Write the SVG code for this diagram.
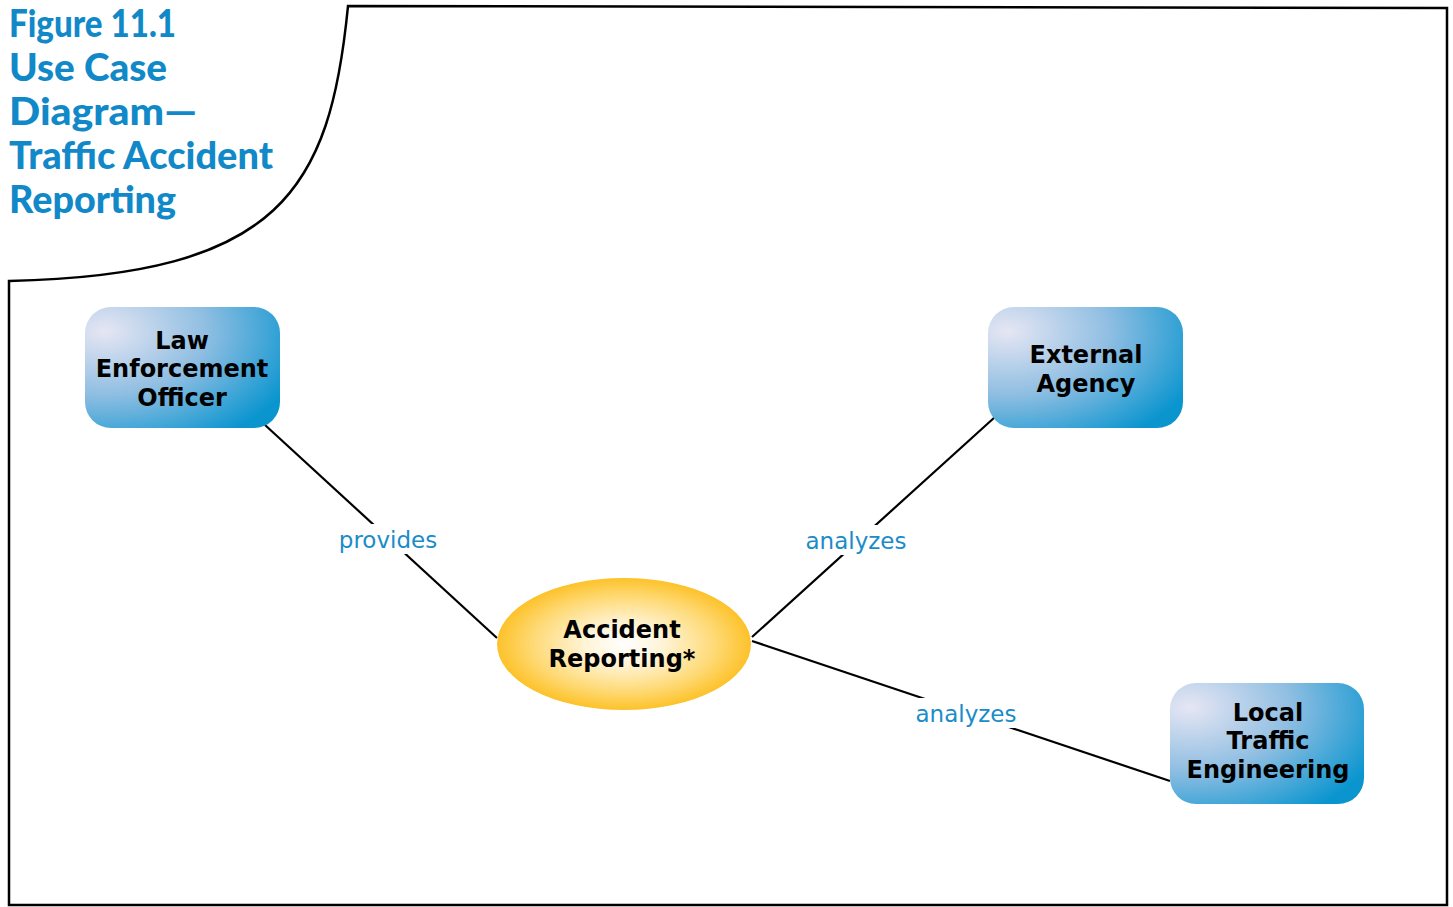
<svg xmlns="http://www.w3.org/2000/svg" width="1453" height="907" viewBox="0 0 1453 907">
<style>
.title{font-family:"Lato","Liberation Sans",Arial,sans-serif;font-weight:900;font-size:37px;fill:#1189c8}
.nt{font-family:"DejaVu Sans",Verdana,sans-serif;font-weight:bold;font-size:24px;fill:#000;text-anchor:middle}
.lbl{font-family:"DejaVu Sans",Verdana,sans-serif;font-size:23px;fill:#1a8cc8;text-anchor:middle}
.conn{stroke:#000;stroke-width:2.2;fill:none}
.actor{fill:url(#blueGrad)}
</style>
<defs>
<radialGradient id="blueGrad" cx="0.1" cy="0.2" r="1.05" fx="0.1" fy="0.2">
<stop offset="0" stop-color="#e6e6f3"/>
<stop offset="0.5" stop-color="#8fbee2"/>
<stop offset="1" stop-color="#0a95cf"/>
</radialGradient>
<radialGradient id="yelGrad" cx="0.5" cy="0.5" r="0.5">
<stop offset="0" stop-color="#ffffff"/>
<stop offset="0.3" stop-color="#fff4d8"/>
<stop offset="0.7" stop-color="#fedb7a"/>
<stop offset="1" stop-color="#fdc22a"/>
</radialGradient>
</defs>
<rect width="1453" height="907" fill="#fff"/>
<g id="frame">
<path d="M9,905 L9,281 C280,275 330,190 348,6 L1447,8 L1447,905 Z" fill="none" stroke="#000" stroke-width="2.5"/>
</g>
<g id="title">
<text class="title" x="9" y="37" textLength="167" lengthAdjust="spacingAndGlyphs">Figure 11.1</text>
<text class="title" x="9" y="81" textLength="158" lengthAdjust="spacingAndGlyphs">Use Case</text>
<text class="title" x="9" y="125" textLength="188" lengthAdjust="spacingAndGlyphs">Diagram—</text>
<text class="title" x="9" y="169" textLength="264" lengthAdjust="spacingAndGlyphs">Traffic Accident</text>
<text class="title" x="9" y="213" textLength="167" lengthAdjust="spacingAndGlyphs">Reporting</text>
</g>
<g id="connectors">
<line class="conn" x1="265" y1="425" x2="497" y2="638"/>
<line class="conn" x1="995" y1="417" x2="752" y2="637"/>
<line class="conn" x1="752" y1="641" x2="1170" y2="781"/>
<rect x="334" y="524" width="108" height="30" fill="#fff"/>
<text class="lbl" x="388" y="548">provides</text>
<rect x="801" y="525" width="110" height="30" fill="#fff"/>
<text class="lbl" x="856" y="549">analyzes</text>
<rect x="911" y="698" width="110" height="30" fill="#fff"/>
<text class="lbl" x="966" y="722">analyzes</text>
</g>
<g id="law-enforcement-officer">
<rect class="actor" x="85" y="307" width="195" height="121" rx="26"/>
<text class="nt" x="182" y="349">Law</text>
<text class="nt" x="182" y="377">Enforcement</text>
<text class="nt" x="182" y="406">Officer</text>
</g>
<g id="external-agency">
<rect class="actor" x="988" y="307" width="195" height="121" rx="26"/>
<text class="nt" x="1086" y="363">External</text>
<text class="nt" x="1086" y="392">Agency</text>
</g>
<g id="local-traffic-engineering">
<rect class="actor" x="1170" y="683" width="194" height="121" rx="26"/>
<text class="nt" x="1268" y="721">Local</text>
<text class="nt" x="1268" y="749">Traffic</text>
<text class="nt" x="1268" y="778">Engineering</text>
</g>
<g id="accident-reporting">
<ellipse cx="624" cy="644" rx="127" ry="66" fill="url(#yelGrad)"/>
<text class="nt" x="622" y="638">Accident</text>
<text class="nt" x="622" y="667">Reporting*</text>
</g>
</svg>
